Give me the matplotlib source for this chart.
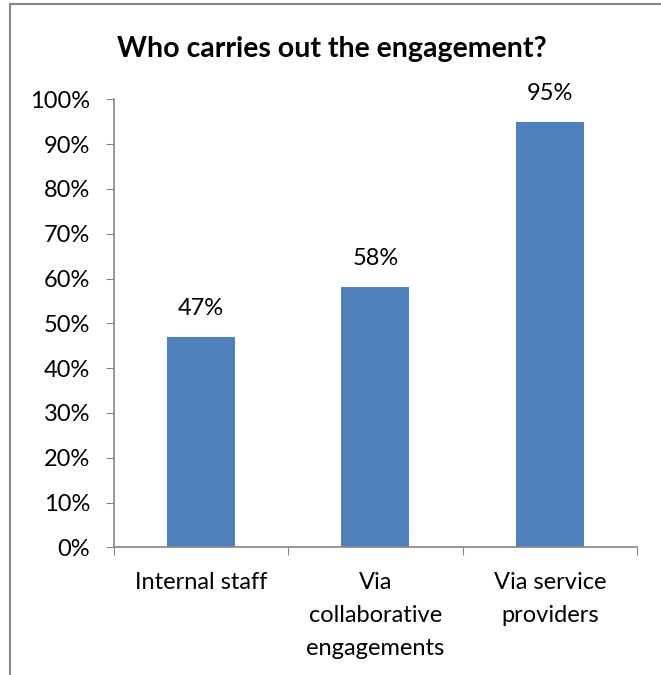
import matplotlib.pyplot as plt
from matplotlib.lines import Line2D
from matplotlib.ticker import PercentFormatter

categories = ['Internal staff', 'Via\ncollaborative\nengagements', 'Via service\nproviders']
values = [47, 58, 95]
yticks = list(range(0, 101, 10))

plt.rcParams['font.family'] = ['Lato', 'DejaVu Sans']

fig = plt.figure(figsize=(6.61, 6.75), dpi=100)
ax = fig.add_axes([0.172, 0.189, 0.792, 0.664])

x = list(range(len(categories)))
ax.bar(x, values, width=0.39, color='#4F81BD')
for xi, v in zip(x, values):
    ax.annotate(f'{v}%', (xi, v), xytext=(0, 13), textcoords='offset points',
                ha='center', va='bottom', fontsize=17)

ax.set_xlim(-0.5, len(categories) - 0.5)
ax.set_ylim(0, 100)
ax.set_yticks(yticks)
ax.yaxis.set_major_formatter(PercentFormatter(decimals=0))
ax.tick_params(axis='y', labelsize=17, length=6, color='#868686', pad=11)

# category labels sit between boundary ticks
ax.set_xticks([i - 0.5 for i in range(len(categories) + 1)])
ax.set_xticklabels([])
ax.set_xticks(x, minor=True)
ax.set_xticklabels(categories, minor=True, fontsize=17, linespacing=1.68)
ax.tick_params(axis='x', which='major', length=6, color='#868686')
ax.tick_params(axis='x', which='minor', length=0, pad=18)

for s in ['top', 'right']:
    ax.spines[s].set_visible(False)
for s in ['left', 'bottom']:
    ax.spines[s].set_color('#868686')
    ax.spines[s].set_linewidth(1.2)

fig.text(0.502, 0.928, 'Who carries out the engagement?', ha='center', va='center',
         fontsize=20.5, fontweight='bold')

# chart area border (top and left edges)
fig.add_artist(Line2D([0.015, 1.0], [0.994, 0.994], color='#868686', lw=1.5))
fig.add_artist(Line2D([0.015, 0.015], [0.0, 0.994], color='#868686', lw=1.5))

fig.savefig('out.png', dpi=100)
